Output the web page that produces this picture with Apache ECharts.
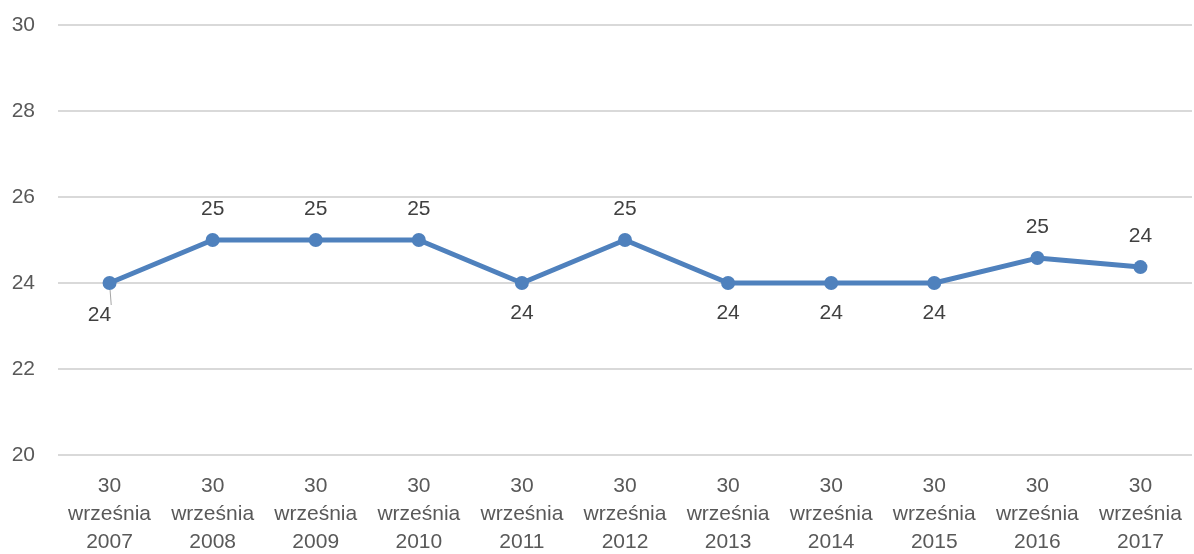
<!DOCTYPE html>
<html>
<head>
<meta charset="utf-8">
<script src="https://cdn.jsdelivr.net/npm/echarts@6/dist/echarts.min.js"></script>
<style>
  html, body { margin: 0; padding: 0; background: #fff; }
  #chart { width: 1194px; height: 554px; }
</style>
</head>
<body>
<div id="chart"></div>
<script>
// kategorie i wartości
const categories = [
  "30\nwrześnia\n2007", "30\nwrześnia\n2008", "30\nwrześnia\n2009",
  "30\nwrześnia\n2010", "30\nwrześnia\n2011", "30\nwrześnia\n2012",
  "30\nwrześnia\n2013", "30\nwrześnia\n2014", "30\nwrześnia\n2015",
  "30\nwrześnia\n2016", "30\nwrześnia\n2017",
];
const values = [24, 25, 25, 25, 24, 25, 24, 24, 24, 24.58, 24.37];
// gdzie etykieta: nad / pod punktem
const labelPos = ["bottom", "top", "top", "top", "bottom", "top", "bottom", "bottom", "bottom", "top", "top"];

const textColor = "#595959";
const fontFamily = "Liberation Sans, Arial, sans-serif";

const seriesData = values.map((v, i) => {
  const item = {
    value: v,
    label: { position: labelPos[i], distance: 13 },
  };
  if (i === 0) {
    // pierwsza etykieta przesunięta w lewo z linią odniesienia
    item.label.offset = [-10, 2];
    item.labelLine = { show: true, lineStyle: { color: "#a6a6a6", width: 1 } };
  }
  return item;
});

const chart = echarts.init(document.getElementById("chart"));
chart.setOption({
  backgroundColor: "#fff",
  animation: false,
  grid: { left: 58, right: 2, top: 25, bottom: 99, outerBoundsMode: "none" },
  xAxis: {
    type: "category",
    data: categories,
    boundaryGap: true,
    axisLine: { show: false },
    axisTick: { show: false },
    axisLabel: {
      color: textColor,
      fontSize: 21,
      fontFamily: fontFamily,
      lineHeight: 28,
      margin: 17,
      interval: 0,
    },
  },
  yAxis: {
    type: "value",
    min: 20,
    max: 30,
    interval: 2,
    axisLine: { show: false },
    axisTick: { show: false },
    axisLabel: {
      color: textColor,
      fontSize: 21,
      fontFamily: fontFamily,
      margin: 23,
    },
    splitLine: { lineStyle: { color: "#d9d9d9", width: 2 } },
  },
  series: [
    {
      type: "line",
      data: seriesData,
      symbol: "circle",
      symbolSize: 14,
      lineStyle: { color: "#4f81bd", width: 5 },
      itemStyle: { color: "#4f81bd" },
      label: {
        show: true,
        color: "#404040",
        fontSize: 21,
        fontFamily: fontFamily,
        formatter: (p) => Math.round(p.value),
      },
    },
  ],
});
</script>
</body>
</html>
